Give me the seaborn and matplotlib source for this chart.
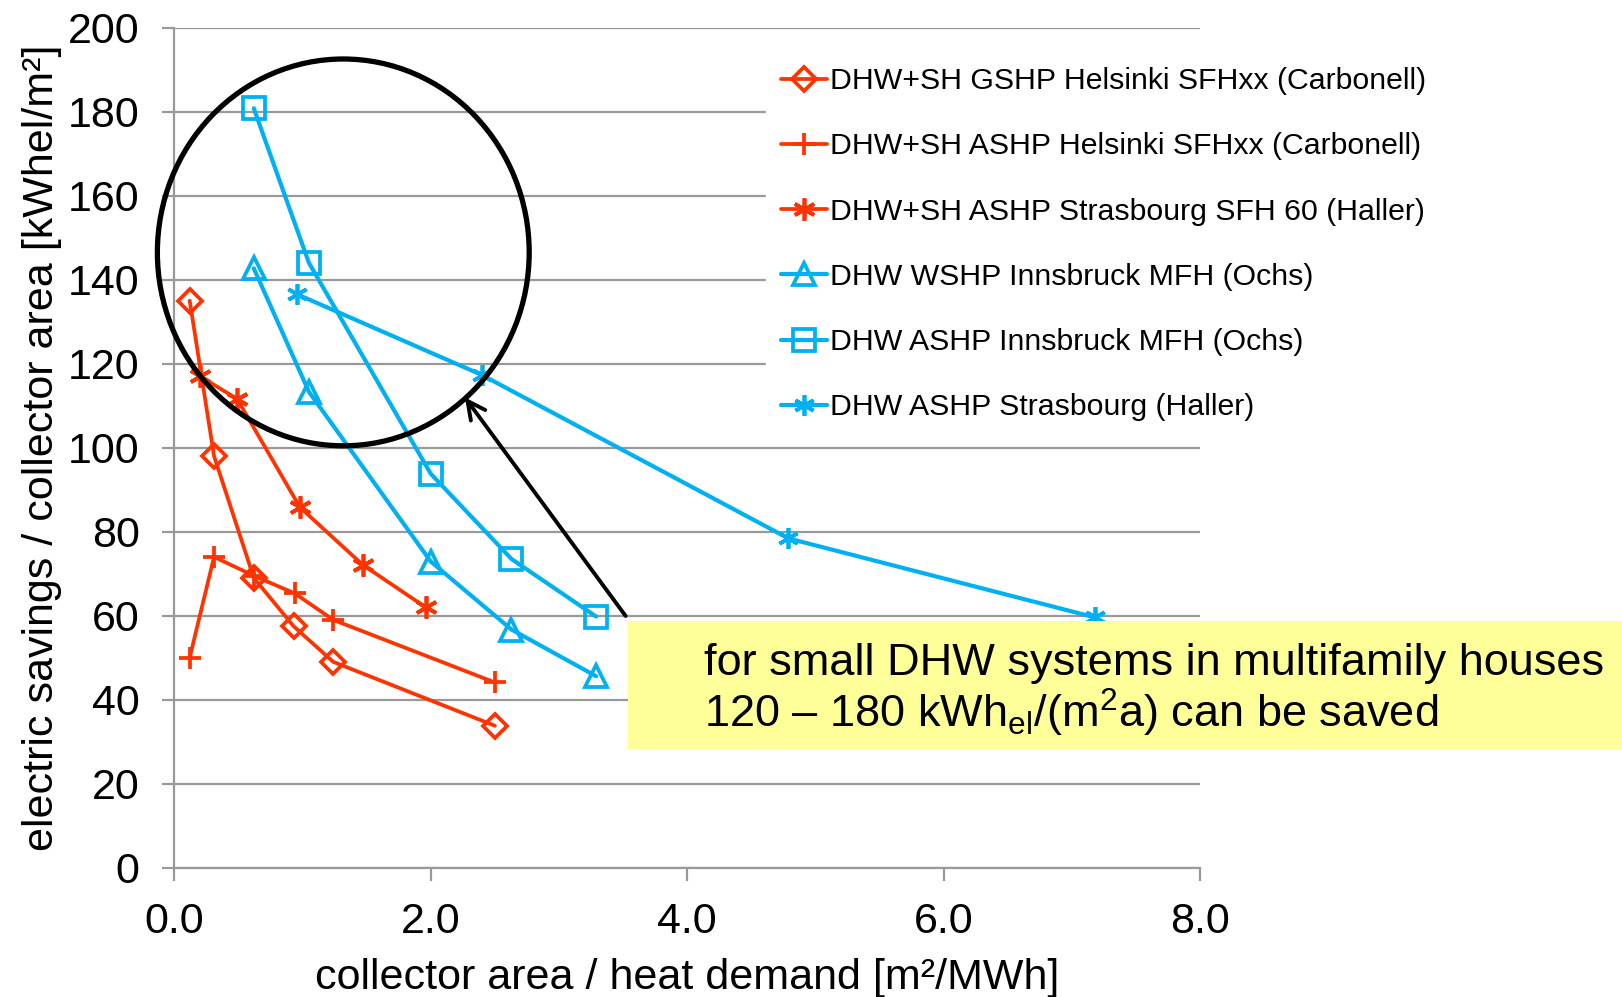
import numpy as np
import pandas as pd
import matplotlib
matplotlib.use('Agg')
import matplotlib.pyplot as plt
from matplotlib.patches import Ellipse, Rectangle
import seaborn as sns

# data
labels = ['DHW+SH GSHP Helsinki SFHxx (Carbonell)',
          'DHW+SH ASHP Helsinki SFHxx (Carbonell)',
          'DHW+SH ASHP Strasbourg SFH 60 (Haller)',
          'DHW WSHP Innsbruck MFH (Ochs)',
          'DHW ASHP Innsbruck MFH (Ochs)',
          'DHW ASHP Strasbourg (Haller)']

gshp_hel_x = [0.12, 0.31, 0.62, 0.93, 1.24, 2.50]
gshp_hel_y = [135.0, 98.0, 69.0, 57.5, 49.0, 33.8]
ashp_hel_x = [0.12, 0.31, 0.62, 0.94, 1.24, 2.50]
ashp_hel_y = [50.0, 74.0, 69.5, 65.3, 59.0, 44.1]
ashp_str_sfh_x = [0.20, 0.49, 0.98, 1.47, 1.96]
ashp_str_sfh_y = [117.0, 111.6, 85.8, 72.1, 62.0]
wshp_inn_x = [0.62, 1.05, 2.00, 2.63, 3.29]
wshp_inn_y = [142.7, 113.3, 72.9, 56.7, 45.6]
ashp_inn_x = [0.62, 1.05, 2.00, 2.63, 3.29]
ashp_inn_y = [180.8, 144.0, 93.8, 73.5, 59.8]
ashp_str_x = [0.96, 2.40, 4.79, 7.18]
ashp_str_y = [136.5, 117.3, 78.4, 59.6]

xs = [gshp_hel_x, ashp_hel_x, ashp_str_sfh_x, wshp_inn_x, ashp_inn_x, ashp_str_x]
ys = [gshp_hel_y, ashp_hel_y, ashp_str_sfh_y, wshp_inn_y, ashp_inn_y, ashp_str_y]

RED = '#FF3300'
BLUE = '#00B0F0'
GRID = '#999999'
star = (6, 2, 0)
styles = [(RED, 'D', 12), (RED, '+', 16), (RED, star, 16),
          (BLUE, '^', 16), (BLUE, 's', 15.5), (BLUE, star, 15)]

sns.set_theme(style='white')
plt.rcParams['font.family'] = ['Liberation Sans', 'DejaVu Sans']
plt.rcParams['mathtext.fontset'] = 'custom'
plt.rcParams['mathtext.rm'] = 'Liberation Sans'
plt.rcParams['mathtext.it'] = 'Liberation Sans:italic'
for k in ['text.color', 'axes.labelcolor', 'xtick.labelcolor', 'ytick.labelcolor']:
    plt.rcParams[k] = 'black'

W, H = 1622, 997
fig = plt.figure(figsize=(W / 100, H / 100), dpi=100)
ax = fig.add_axes([174.3 / W, 1 - 867.7 / H, (1200 - 174.3) / W, (867.7 - 27.7) / H])

for (c, m, ms), lab, x, y in zip(styles, labels, xs, ys):
    df = pd.DataFrame({'x': x, 'y': y})
    lw = 3.0 if c == BLUE else 2.7
    sns.lineplot(data=df, x='x', y='y', ax=ax, color=c, lw=lw, marker=m,
                 markersize=ms, mfc='none', mec=c, mew=2.7, sort=False,
                 estimator=None, label=lab, legend=False)

ax.set_xlim(0, 8)
ax.set_ylim(0, 200)
ax.set_xticks(np.arange(0, 8.1, 2))
ax.set_xticklabels([f'{v:.1f}' for v in np.arange(0, 8.1, 2)])
ax.set_yticks(np.arange(0, 201, 20))
ax.yaxis.grid(True, color=GRID, lw=1.6)
ax.set_axisbelow(True)
for s in ['top', 'right']:
    ax.spines[s].set_visible(False)
for s in ['left', 'bottom']:
    ax.spines[s].set_color(GRID)
    ax.spines[s].set_linewidth(1.6)
ax.tick_params(axis='both', which='major', length=9, width=1.6, color=GRID,
               labelsize=31, labelcolor='black', direction='out')
ax.tick_params(axis='y', pad=16, left=True)
ax.tick_params(axis='x', pad=16, bottom=True)

ax.set_xlabel('collector area / heat demand [m²/MWh]', fontsize=31, labelpad=11)
ax.set_ylabel('electric savings / collector area [kWhel/m²]', fontsize=31, labelpad=4)

leg = ax.legend(loc='upper left', bbox_to_anchor=(766 / W, 1 - 52 / H),
                bbox_transform=fig.transFigure, fontsize=21.8, frameon=True,
                facecolor='white', edgecolor='white', framealpha=1,
                borderpad=0.5, borderaxespad=0, labelspacing=1.23,
                handlelength=1.5, handletextpad=0.12, fancybox=False)

# highlight circle and arrow
ell = Ellipse((1.318, 146.5), 2.90, 92.1, fill=False, ec='black', lw=3.8,
              clip_on=False, zorder=5)
ax.add_patch(ell)
ax.annotate('', xy=(2.254, 112.5), xytext=(3.533, 59.4),
            arrowprops=dict(arrowstyle='->', color='black', lw=2.8,
                            mutation_scale=32), zorder=6)

# yellow note box
fig.patches.append(Rectangle((628 / W, 1 - 749 / H), (W - 628) / W, (749 - 620.7) / H,
                             transform=fig.transFigure, fc='#FFFF99', ec='none',
                             zorder=7))
fig.text(704 / W, 1 - 675 / H, 'for small DHW systems in multifamily houses',
         fontsize=32.5, va='baseline', ha='left', zorder=8)
fig.text(704 / W, 1 - 728 / H, '120 – 180 kWh$_{\\mathrm{el}}$/(m$^2$a) can be saved',
         fontsize=32.5, va='baseline', ha='left', zorder=8)

fig.savefig('out.png', dpi=100)
